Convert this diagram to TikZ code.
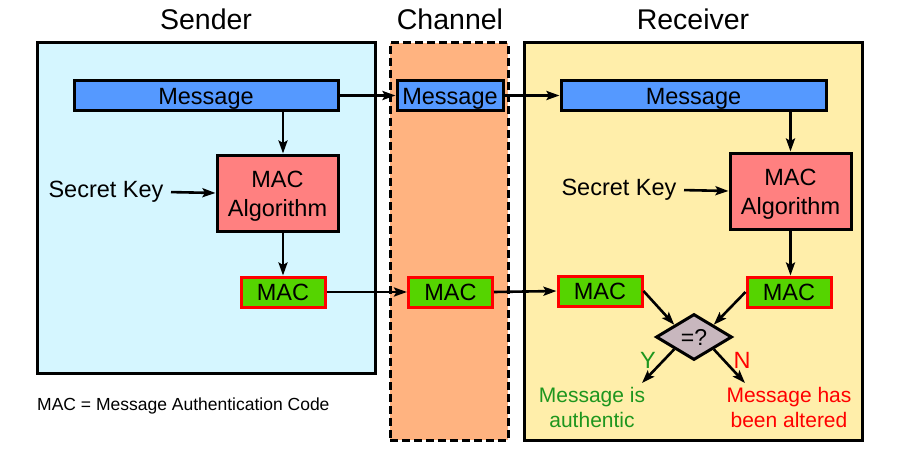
\documentclass[tikz,border=0pt]{standalone}
\usepackage{fontspec}
\setmainfont{Liberation Sans}
\usetikzlibrary{arrows.meta,shapes.geometric}
\definecolor{sendfill}{HTML}{D5F6FF}
\definecolor{chanfill}{HTML}{FFB380}
\definecolor{recvfill}{HTML}{FFEEAA}
\definecolor{msgfill}{HTML}{5599FF}
\definecolor{algfill}{HTML}{FF8080}
\definecolor{macfill}{HTML}{55D400}
\definecolor{diafill}{HTML}{C8B7BE}
\definecolor{okgreen}{HTML}{1E961E}
\definecolor{badred}{HTML}{FF0000}
\tikzset{
  x=1pt,y=-1pt,
  zone/.style={draw=black,line width=3pt,inner sep=0pt},
  blk/.style={draw=black,line width=3pt,inner sep=0pt,font=\fontsize{23.5}{29}\selectfont,text height=17pt,text depth=0pt},
  msgbox/.style={blk,fill=msgfill,minimum height=29pt},
  algbox/.style={blk,fill=algfill,minimum width=121pt,minimum height=76pt,align=center,text height=46pt,text depth=0pt},
  macbox/.style={blk,draw=badred,fill=macfill,minimum width=84pt,minimum height=30pt},
  ttl/.style={font=\fontsize{28.5}{32}\selectfont},
  lbl/.style={font=\fontsize{23.5}{26}\selectfont},
  arr/.style={line width=2.6pt,-{Stealth[length=13pt,width=9pt,inset=2.5pt]}},
}
\begin{document}
\begin{tikzpicture}
\useasboundingbox (0,0) rectangle (900,460);
\fill[white] (0,0) rectangle (900,460);
% zones
\node[zone,fill=sendfill,minimum width=338pt,minimum height=330pt] (sender) at (206,208) {};
\node[zone,fill=chanfill,dash pattern=on 8pt off 4pt,minimum width=118pt,minimum height=397pt] (channel) at (449,241.5) {};
\node[zone,fill=recvfill,minimum width=338pt,minimum height=397pt] (receiver) at (693,241.5) {};
% titles
\node[ttl] (tS) at (206,19) {Sender};
\node[ttl] (tC) at (450,19) {Channel};
\node[ttl] (tR) at (693,19) {Receiver};
% messages
\node[msgbox,minimum width=264pt] (sMsg) at (206,95.5) {Message};
\node[msgbox,minimum width=106pt] (cMsg) at (450,95.5) {Message};
\node[msgbox,minimum width=265pt] (rMsg) at (693.5,95.5) {Message};
% algorithms
\node[algbox] (sAlg) at (277.5,193) {MAC\\Algorithm};
\node[algbox] (rAlg) at (790.5,191) {MAC\\Algorithm};
% keys
\node[lbl] (sKey) at (106,192) {Secret Key};
\node[lbl] (rKey) at (619,190) {Secret Key};
% MACs
\node[macbox] (sMAC) at (283,292) {MAC};
\node[macbox] (cMAC) at (450.5,292) {MAC};
\node[macbox] (rMACL) at (600,291) {MAC};
\node[macbox] (rMACR) at (789,292) {MAC};
% compare
\node[diamond,draw=black,line width=3pt,fill=diafill,inner sep=0pt,minimum width=76pt,minimum height=46pt,font=\fontsize{23}{24}\selectfont] (dia) at (694,337) {=?};
\coordinate (yEnd) at (642,383);
\coordinate (nEnd) at (745,383);
\node[lbl,text=okgreen] (yL) at (648,360) {Y};
\node[lbl,text=badred] (nL) at (742,360) {N};
\node[lbl,text=okgreen,align=center,font=\fontsize{21}{25}\selectfont] (ok) at (592,407.5) {Message is\\authentic};
\node[lbl,text=badred,align=center,font=\fontsize{21}{25}\selectfont] (bad) at (789,407.5) {Message has\\been altered};
% footnote
\node[anchor=west,inner sep=0pt,font=\fontsize{17.5}{20}\selectfont] (foot) at (37,406) {MAC = Message Authentication Code};
% connectors
\draw[arr] (sMsg.east) -- (cMsg.west);
\draw[arr] (cMsg.east) -- (rMsg.west);
\draw[arr] (sMsg.south -| sMAC) -- (sAlg.north -| sMAC);
\draw[arr] (sAlg.south -| sMAC) -- (sMAC.north);
\draw[arr] (rMsg.south -| rAlg) -- (rAlg.north);
\draw[arr] (rAlg.south) -- (rAlg.south |- rMACR.north);
\draw[arr,shorten <=4pt] (sKey.east) -- (sAlg.west);
\draw[arr,shorten <=4pt] (rKey.east) -- (rAlg.west);
\draw[arr] (sMAC.east) -- (cMAC.west);
\draw[arr] (cMAC.east) -- (rMACL.west);
\draw[arr] (rMACL.east) -- (dia.north west);
\draw[arr] (rMACR.west) -- (dia.north east);
\draw[arr] (dia.south west) -- (yEnd);
\draw[arr] (dia.south east) -- (nEnd);
\end{tikzpicture}
\end{document}
